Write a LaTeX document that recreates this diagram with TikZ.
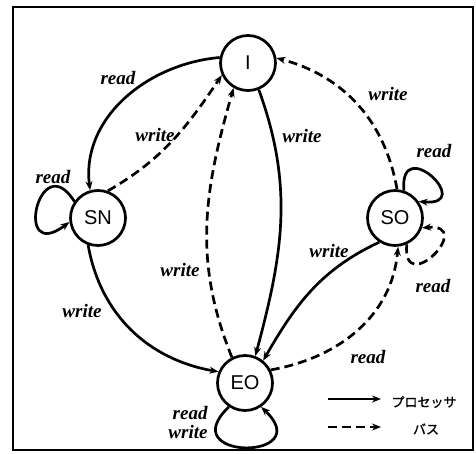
\documentclass[tikz,border=0pt]{standalone}
\usepackage{fontspec}
\setmainfont{Liberation Serif}
\setsansfont{Liberation Sans}
\newfontfamily\jpfont[AutoFakeBold=1.2]{Noto Sans CJK JP}
\usetikzlibrary{arrows.meta}

\begin{document}
\begin{tikzpicture}[x=1pt,y=1pt,
  state/.style={circle, draw, line width=2.7pt, minimum size=55pt, inner sep=0pt,
                font=\sffamily\fontsize{20}{20}\selectfont},
  proc/.style={line width=2.7pt, -{Stealth[length=9pt,width=7pt]}},
  bus/.style={proc, dash pattern=on 9pt off 5pt},
  lbl/.style={font=\bfseries\itshape\fontsize{19}{19}\selectfont, inner sep=1pt},
  legend/.style={font=\jpfont\bfseries\fontsize{13}{13}\selectfont},
]
\useasboundingbox (0,0) rectangle (476,453);
\draw[line width=1.6pt] (13,3) rectangle (473,446);

% states
\node[state] (I)  at (248,390) {I};
\node[state] (SN) at (98,235)  {SN};
\node[state] (SO) at (395,235) {SO};
\node[state] (EO) at (245,70)  {EO};

% transitions
\draw[proc] (I.169) to[out=185,in=97] (SN.106);
\draw[bus]  (SN.70) to[out=30,in=236] (I.205);
\draw[proc] (SN.145) .. controls +(-35,56) and +(-57,-43) .. (SN.188);
\draw[proc] (SN.250) to[out=280,in=170] (EO.157);
\draw[bus]  (EO.117) to[out=112,in=254] (I.240);
\draw[proc] (I.292) to[out=290,in=75] (EO.69);
\draw[bus]  (SO.86) to[out=100,in=-15] (I.10);
\draw[proc] (SO.72) .. controls +(95:58) and +(-5:58) .. (SO.35);
\draw[bus]  (SO.294) .. controls +(265:55) and +(5:55) .. (SO.340);
\draw[proc] (SO.237) to[out=205,in=60] (EO.51);
\draw[bus]  (EO.27) to[out=10,in=265] (SO.276);
\draw[proc] (EO.236) .. controls +(-57,-54) and +(57,-54) .. (EO.304);

% labels
\node[lbl] (l1)  at (118,375) {read};
\node[lbl] (l2)  at (155,318) {write};
\node[lbl] (l3)  at (53,276)  {read};
\node[lbl] (l4)  at (82,142)  {write};
\node[lbl] (l5)  at (180,183) {write};
\node[lbl] (l6)  at (302,317) {write};
\node[lbl] (l7)  at (388,359) {write};
\node[lbl] (l8)  at (434,302) {read};
\node[lbl] (l9)  at (433,167) {read};
\node[lbl] (l10) at (329,202) {write};
\node[lbl] (l11) at (368,96)  {read};
\node[lbl, align=right] (l12) at (188,31) {read\\write};

% legend
\coordinate (pa) at (328,54);
\coordinate (pb) at (381,54);
\coordinate (ba) at (328,26);
\coordinate (bb) at (381,26);
\draw[proc] (pa) -- (pb);
\draw[bus]  (ba) -- (bb);
\node[legend] (tp) at (424,51) {プロセッサ};
\node[legend] (tb) at (426,24) {バス};
\end{tikzpicture}
\end{document}
